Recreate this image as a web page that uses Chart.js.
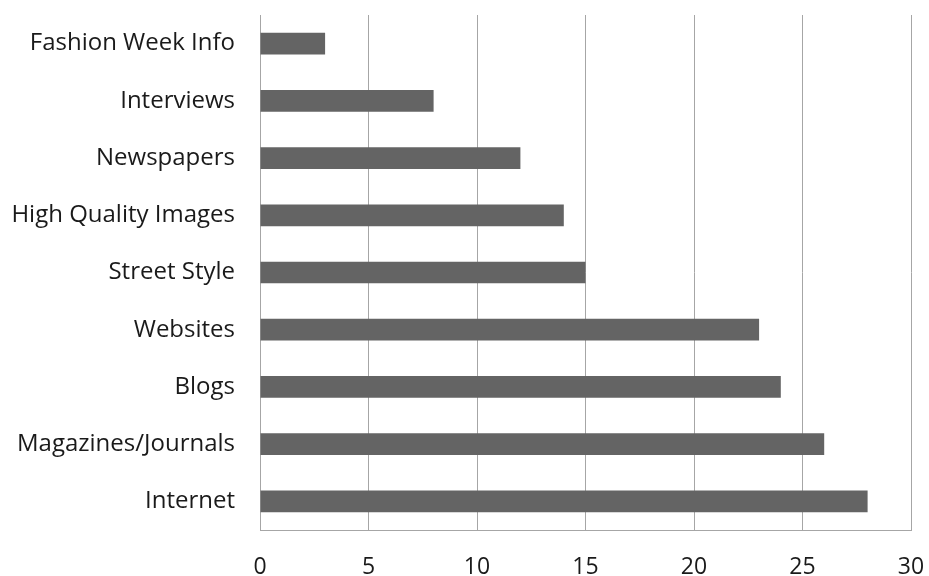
<!DOCTYPE html>
<html>
<head>
<meta charset="utf-8">
<script src="https://cdn.jsdelivr.net/npm/chart.js@4"></script>
<style>
  html, body { margin: 0; padding: 0; background: #fff; }
  #wrap { width: 929px; height: 576px; }
</style>
</head>
<body>
<div id="wrap"><canvas id="chart"></canvas></div>
<script>
// categories, top to bottom as shown
var categories = ['Fashion Week Info', 'Interviews', 'Newspapers', 'High Quality Images',
    'Street Style', 'Websites', 'Blogs', 'Magazines/Journals', 'Internet'];
var counts = [3, 8, 12, 14, 15, 23, 24, 26, 28];
var xTicks = [0, 5, 10, 15, 20, 25, 30];

var gridColor = '#a6a6a6';
var fontFamily = '"Open Sans", Lato, sans-serif';

new Chart(document.getElementById('chart'), {
    type: 'bar',
    data: {
        labels: categories,
        datasets: [{
            data: counts,
            backgroundColor: '#646464',
            borderWidth: 0,
            categoryPercentage: 1,
            barPercentage: 0.38
        }]
    },
    options: {
        indexAxis: 'y',
        responsive: true,
        maintainAspectRatio: false,
        animation: false,
        layout: { padding: { top: 15, right: 18, left: 0, bottom: 0 } },
        plugins: { legend: { display: false }, tooltip: { enabled: false } },
        scales: {
            x: {
                min: xTicks[0],
                max: xTicks[xTicks.length - 1],
                afterBuildTicks: function (scale) {
                    scale.ticks = xTicks.map(function (v) { return { value: v }; });
                },
                afterFit: function (scale) {
                    scale.height = 46;
                    scale.paddingLeft = 0;
                    scale.paddingRight = 0;
                },
                grid: { color: gridColor, lineWidth: 1, drawTicks: false },
                border: { color: gridColor, width: 1 },
                ticks: { color: '#1a1a1a', font: { family: fontFamily, size: 23 }, padding: 24 }
            },
            y: {
                afterFit: function (scale) {
                    scale.width = 260;
                    scale.paddingTop = 0;
                    scale.paddingBottom = 0;
                },
                grid: { display: false, drawTicks: false },
                border: { color: gridColor, width: 1 },
                ticks: { color: '#1a1a1a', font: { family: fontFamily, size: 24 }, padding: 25 }
            }
        }
    }
});
</script>
</body>
</html>
